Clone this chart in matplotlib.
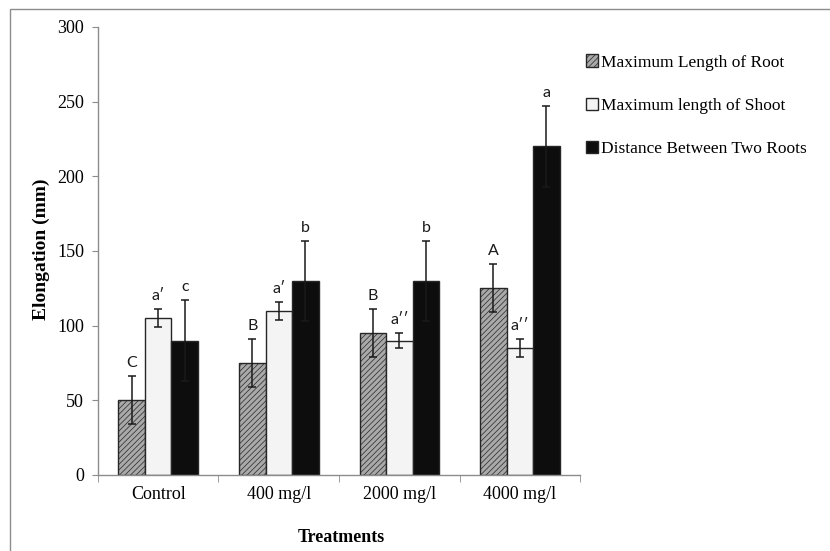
import matplotlib
matplotlib.use("Agg")
import matplotlib.pyplot as plt
import matplotlib.patches as mpatches
import numpy as np

# data
treatments = ['Control', '400 mg/l', '2000 mg/l', '4000 mg/l']
series = ['Maximum Length of Root', 'Maximum length of Shoot', 'Distance Between Two Roots']
root = [50, 75, 95, 125]
root_err = [16, 16, 16, 16]
shoot = [105, 110, 90, 85]
shoot_err = [6, 6, 5, 6]
dist = [90, 130, 130, 220]
dist_err = [27, 27, 27, 27]
root_letters = ['C', 'B', 'B', 'A']
shoot_letters = ['a\u2032', 'a\u2032', 'a\u2032\u2032', 'a\u2032\u2032']
dist_letters = ['c', 'b', 'b', 'a']

plt.rcParams['hatch.color'] = '#8e8e8e'
plt.rcParams['hatch.linewidth'] = 0.5

fig = plt.figure(figsize=(8.3, 5.51), dpi=100)
ax = fig.add_axes([0.118, 0.138, 0.581, 0.813])

x = np.arange(len(treatments))
w = 0.22
styles = [
    dict(color='#a9a9a9', hatch='//////'),
    dict(color='#f4f4f4', hatch=None),
    dict(color='#0d0d0d', hatch=None),
]
vals = [root, shoot, dist]
errs = [root_err, shoot_err, dist_err]
letters = [root_letters, shoot_letters, dist_letters]

handles = []
for i in range(3):
    pos = x + (i - 1) * w
    bars = ax.bar(pos, vals[i], w, color=styles[i]['color'], hatch=styles[i]['hatch'],
                  edgecolor='#262626', linewidth=1.0, label=series[i], zorder=2)
    ax.errorbar(pos, vals[i], yerr=errs[i], fmt='none', ecolor='#1a1a1a',
                elinewidth=1.1, capsize=3.2, capthick=1.1, zorder=3)
    for p, v, e, t in zip(pos, vals[i], errs[i], letters[i]):
        ax.text(p, v + e + 4, t, ha='center', va='bottom', fontsize=11.5,
                family=['Lato', 'DejaVu Sans'], color='#1a1a1a')
    handles.append(bars)

ax.set_xlim(-0.5, 3.5)
ax.set_ylim(0, 300)
ax.set_yticks(range(0, 301, 50))
ax.set_xticks(x)
ax.set_xticklabels(treatments, family='Liberation Serif', fontsize=13)
ax.set_xticks(np.arange(-0.5, 4.0, 1.0), minor=True)
ax.tick_params(axis='x', which='major', length=0, pad=8)
ax.tick_params(axis='x', which='minor', length=5, color='#8c8c8c', direction='out')
ax.tick_params(axis='y', length=4, color='#8c8c8c', direction='out', pad=6)
for lab in ax.get_yticklabels():
    lab.set_family('Liberation Serif')
    lab.set_fontsize(13)

for s in ['top', 'right']:
    ax.spines[s].set_visible(False)
for s in ['left', 'bottom']:
    ax.spines[s].set_color('#8c8c8c')
    ax.spines[s].set_linewidth(1.0)

ax.set_ylabel('Elongation (mm)', family='Liberation Serif', fontsize=14,
              fontweight='bold')
ax.yaxis.set_label_coords(-0.1, 0.504)
fig.text(0.411, 0.025, 'Treatments', family='Liberation Serif', fontsize=13,
         fontweight='bold', ha='center', va='center')

leg = ax.legend(handles=handles, loc='upper left', bbox_to_anchor=(0.99, 0.962),
                frameon=False, prop={'family': 'Liberation Serif', 'size': 12.5},
                labelspacing=1.56, handlelength=0.7, handleheight=0.7,
                handletextpad=0.15, borderaxespad=0.2)

# outer frame (only top and left edges visible in the reference)
frame = mpatches.Rectangle((10 / 830, -0.1), 2.0, 1.1 - 9 / 551,
                           transform=fig.transFigure, fill=False,
                           edgecolor='#8c8c8c', linewidth=1.0, clip_on=False)
fig.patches.append(frame)

fig.savefig('out.png', dpi=100)
